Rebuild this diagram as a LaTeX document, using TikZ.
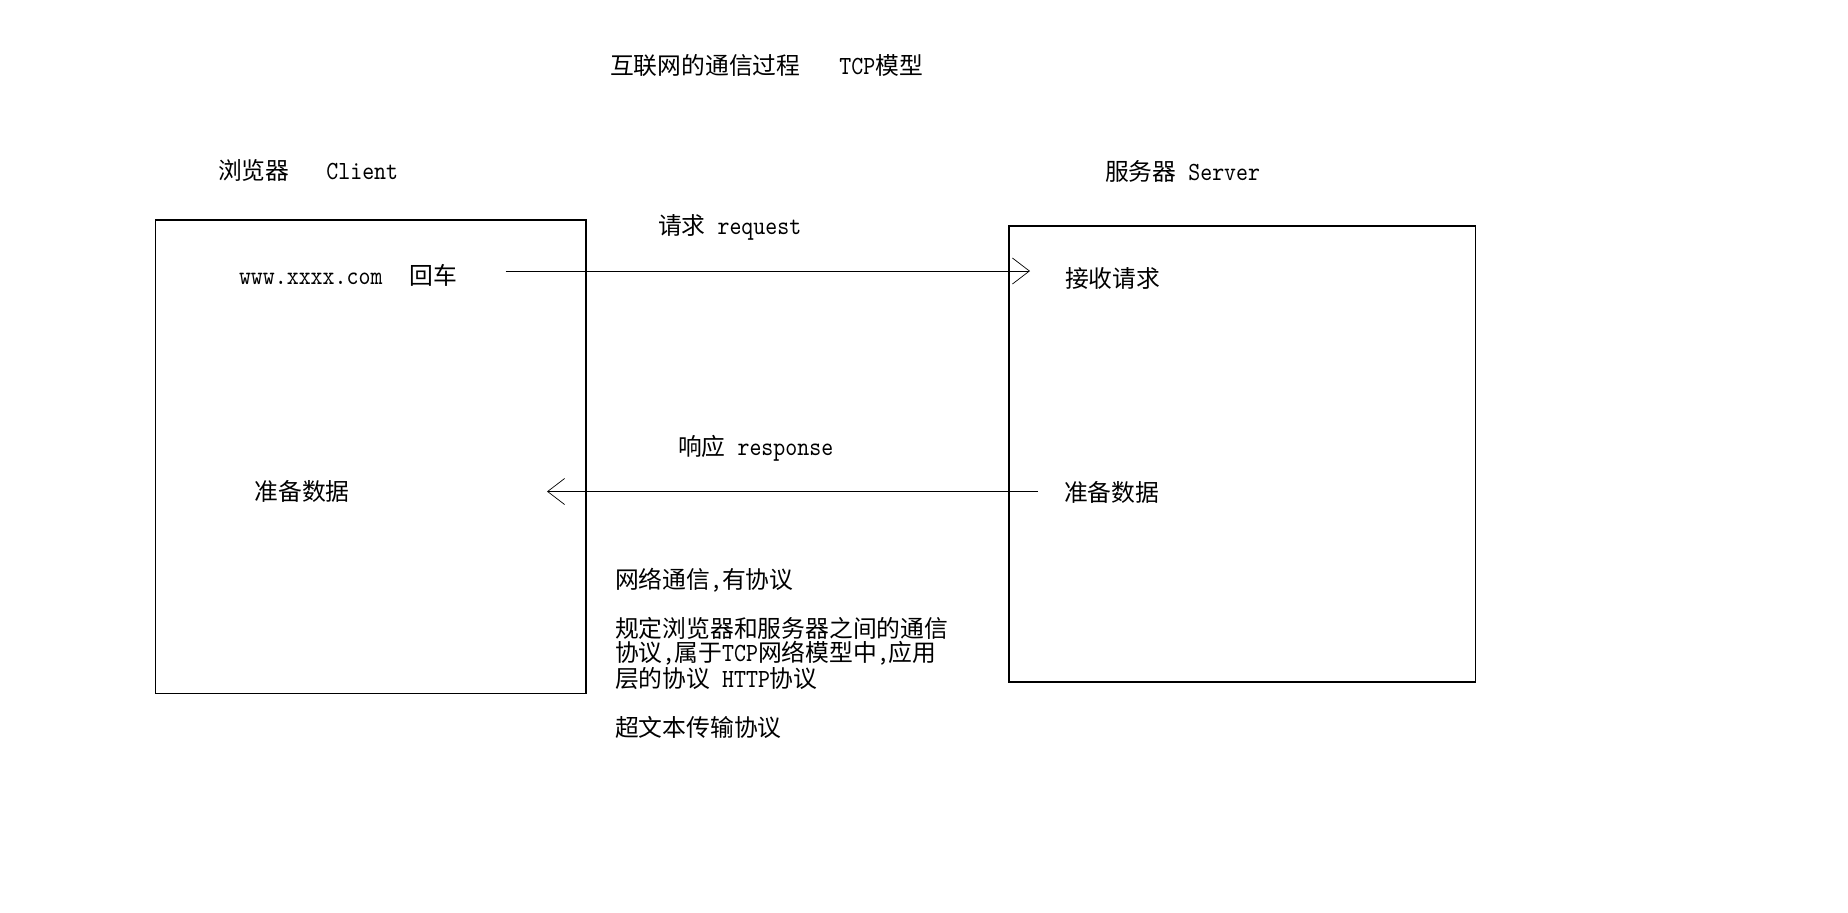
\documentclass[tikz,border=0pt]{standalone}
\usepackage{fontspec}
\setmainfont{Noto Sans CJK SC}
\newfontfamily\latinmono[Scale=1.1, FakeStretch=0.87]{lmmono10-regular.otf}
\newcommand{\en}[1]{{\latinmono #1}}
\usetikzlibrary{arrows.meta}

\begin{document}
\begin{tikzpicture}[x=0.5pt, y=-0.5pt,
  txt/.style={inner sep=0pt, outer sep=0pt, anchor=west,
    font=\fontsize{11.9pt}{11.75pt}\selectfont, align=left},
  panel/.style={draw, line width=0.7pt, rectangle, inner sep=0pt},
  msg/.style={line width=0.5pt,
    -{Straight Barb[length=8.5pt, width=13pt, line width=0.35pt]}}
]
\useasboundingbox (0,0) rectangle (1848,912);

% title
\node[txt] (title) at (610,65) {互联网的通信过程\hspace{19.5pt}\en{TCP}模型};

% the two end points
\node[txt] (clientlbl) at (218,170) {浏览器\hspace{18.5pt}\en{Client}};
\node[txt] (serverlbl) at (1105,171) {服务器\en{ }\en{Server}};

\node[panel, minimum width=215.25pt, minimum height=236.85pt] (client) at (370.75,456.85) {};
\node[panel, minimum width=233.15pt, minimum height=228pt] (server) at (1242.15,454) {};

% contents of the boxes
\node[txt] (url) at (239,275) {\en{www.xxxx.com}\hspace{13.5pt}回车};
\node[txt] (recv) at (1065,278) {接收请求};
\node[txt] (prepc) at (254.5,491.5) {准备数据};
\node[txt] (preps) at (1064,492.5) {准备数据};

% request / response
\coordinate (reqfrom) at (505.7,271);
\coordinate (reqto) at (1030,271);
\coordinate (resfrom) at (1038,491.5);
\coordinate (resto) at (547,491.5);
\draw[msg] (reqfrom) -- (reqto);
\draw[msg] (resfrom) -- (resto);
\node[txt] (reqlbl) at (658,227) {请求\en{ request}};
\node[txt] (reslbl) at (678,448) {响应\en{ response}};

% notes on the protocol
\node[txt] (note1) at (615,580) {网络通信\en{,}有协议};
\node[txt] (note2) at (615,653.5) {规定浏览器和服务器之间的通信\\协议\en{,}属于\en{TCP}网络模型中\en{,}应用\\层的协议\en{ HTTP}协议};
\node[txt] (note3) at (615,727) {超文本传输协议};
\end{tikzpicture}
\end{document}
